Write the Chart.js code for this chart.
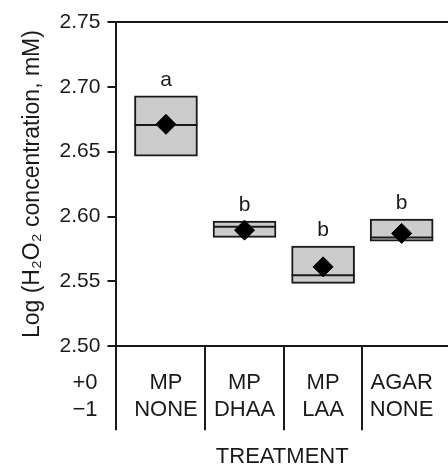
<!DOCTYPE html>
<html lang="en">
<head>
    <meta charset="UTF-8">
    <title>H2O2 concentration by treatment</title>
    <script src="https://cdn.jsdelivr.net/npm/chart.js"></script>
    <style>
        html, body { margin: 0; padding: 0; background: #fff; }
        #wrap { width: 448px; height: 468px; position: relative; }
    </style>
</head>
<body>
    <div id="wrap"><canvas id="boxChart"></canvas></div>
    <script>
        // values
        const categories = [['MP', 'NONE'], ['MP', 'DHAA'], ['MP', 'LAA'], ['AGAR', 'NONE']];
        const boxLow = [2.6466, 2.5839, 2.5484, 2.5810];
        const boxHigh = [2.6931, 2.5965, 2.5772, 2.5980];
        const medians = [2.6705, 2.5921, 2.5548, 2.5839];
        const means = [2.6711, 2.5895, 2.5612, 2.5870];
        const letters = ['a', 'b', 'b', 'b'];
        const rowLabels = ['+0', '\u22121'];
        const yMin = 2.50, yMax = 2.75, yStep = 0.05;

        const FONT = '"Liberation Sans", Arial, sans-serif';
        const INK = '#1a1a1a';
        const NONE = 'rgba(0,0,0,0)';

        const idx = categories.map((c, i) => i);

        // dividers between treatments, letters above boxes, row labels
        const extras = {
            id: 'extras',
            afterDatasetsDraw(chart) {
                const { ctx, chartArea, scales } = chart;
                const x = scales.x, y = scales.y;
                ctx.save();
                ctx.strokeStyle = INK;
                ctx.lineWidth = 2;
                const cuts = [x.min].concat(idx.slice(1).map(i => i - 0.5));
                cuts.forEach(v => {
                    const px = Math.round(x.getPixelForValue(v));
                    ctx.beginPath();
                    ctx.moveTo(px, chartArea.bottom);
                    ctx.lineTo(px, chartArea.bottom + 84);
                    ctx.stroke();
                });

                ctx.fillStyle = INK;
                ctx.font = '21px ' + FONT;
                ctx.textAlign = 'center';
                ctx.textBaseline = 'middle';
                letters.forEach((t, i) => {
                    ctx.fillText(t, x.getPixelForValue(i), y.getPixelForValue(boxHigh[i]) - 16);
                });

                ctx.font = '22px ' + FONT;
                ctx.textAlign = 'right';
                rowLabels.forEach((t, j) => {
                    ctx.fillText(t, chartArea.left - 19, chartArea.bottom + 37.2 + j * 26.4);
                });
                ctx.restore();
            }
        };

        new Chart(document.getElementById('boxChart'), {
            type: 'bar',
            data: {
                datasets: [
                    {
                        type: 'line',
                        data: idx.map(i => ({ x: i, y: means[i] })),
                        showLine: false,
                        pointStyle: 'rectRot',
                        pointRadius: 10,
                        pointBackgroundColor: '#000',
                        pointBorderColor: '#000',
                        pointBorderWidth: 1,
                        order: 0
                    },
                    {
                        type: 'line',
                        data: idx.map(i => ({ x: i, y: medians[i] })),
                        showLine: false,
                        pointStyle: 'line',
                        pointRadius: 31.5,
                        pointBorderColor: INK,
                        pointBorderWidth: 2,
                        order: 1
                    },
                    {
                        type: 'bar',
                        data: idx.map(i => ({ x: i, y: [boxLow[i], boxHigh[i]] })),
                        backgroundColor: '#cccccc',
                        borderColor: INK,
                        borderWidth: 2,
                        borderSkipped: false,
                        barThickness: 63,
                        order: 2
                    }
                ]
            },
            options: {
                responsive: true,
                maintainAspectRatio: false,
                animation: false,
                events: [],
                layout: { autoPadding: false, padding: { top: 22, right: 0, bottom: 0, left: 0 } },
                scales: {
                    x: {
                        type: 'linear',
                        offset: false,
                        min: -0.63,
                        max: 3.59,
                        afterBuildTicks: s => { s.ticks = idx.map(v => ({ value: v })); },
                        ticks: {
                            callback: v => categories[v] || '',
                            padding: 0,
                            maxRotation: 0,
                            autoSkip: false,
                            color: INK,
                            font: { family: FONT, size: 22 }
                        },
                        grid: {
                            drawOnChartArea: false,
                            offset: false,
                            color: NONE,
                            tickColor: NONE,
                            tickLength: 24
                        },
                        border: { color: INK, width: 2 },
                        title: {
                            display: true,
                            text: 'TREATMENT',
                            color: INK,
                            font: { family: FONT, size: 22, lineHeight: 1 },
                            padding: { top: 23, bottom: 0 }
                        }
                    },
                    y: {
                        min: yMin,
                        max: yMax,
                        ticks: {
                            stepSize: yStep,
                            callback: v => Number(v).toFixed(2),
                            padding: 7,
                            color: INK,
                            font: { family: FONT, size: 21 }
                        },
                        grid: {
                            color: c => (c.tick && c.tick.value > yMax - 0.001) ? INK : NONE,
                            lineWidth: 2,
                            tickColor: INK,
                            tickWidth: 2,
                            tickLength: 9
                        },
                        border: { color: INK, width: 2 },
                        title: {
                            display: true,
                            text: 'Log (H\u2082O\u2082 concentration, mM)',
                            color: INK,
                            font: { family: FONT, size: 23 },
                            padding: { top: 19, bottom: 6 }
                        }
                    }
                },
                plugins: {
                    legend: { display: false },
                    tooltip: { enabled: false }
                }
            },
            plugins: [extras]
        });
    </script>
</body>
</html>
